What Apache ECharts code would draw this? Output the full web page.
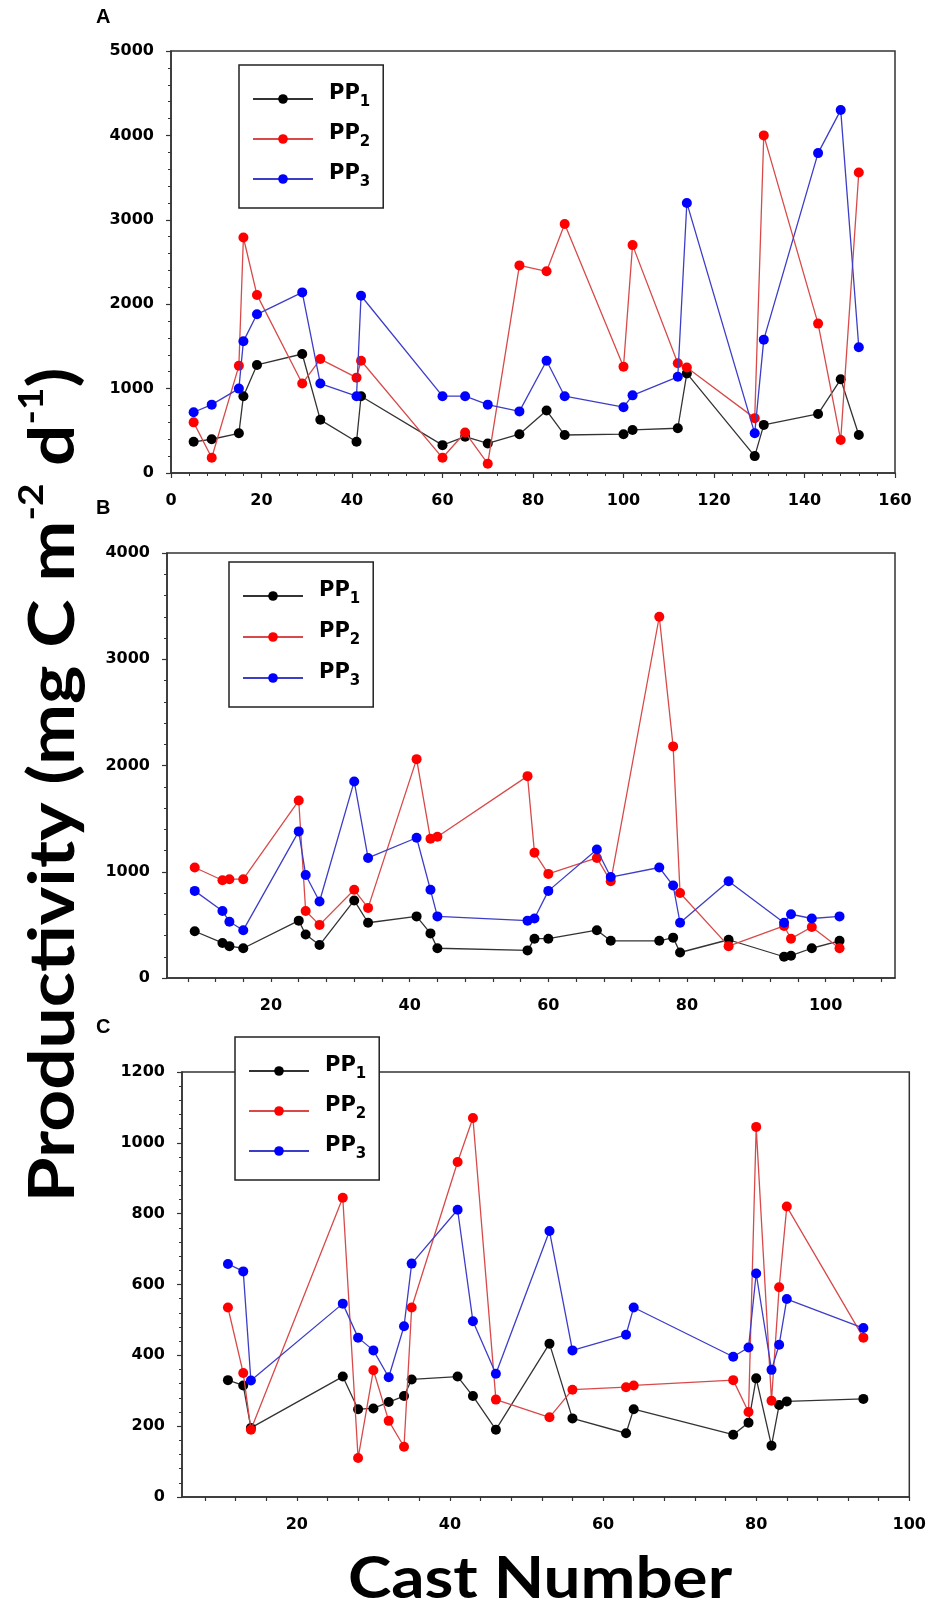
<!DOCTYPE html>
<html>
<head>
<meta charset="utf-8">
<script src="https://cdn.jsdelivr.net/npm/echarts@6/dist/echarts.min.js"></script>
<style>
html,body{margin:0;padding:0;background:#fff;}
#c{width:929px;height:1609px;}
</style>
</head>
<body>
<div id="c"></div>
<script>
// ---------- Data ----------
const castA = [5,9,15,16,19,29,33,41,42,60,65,70,77,83,87,100,102,112,114,129,131,143,148,152];
const pp1A = [370,400,470,910,1280,1410,630,370,910,330,430,350,460,740,450,460,510,530,1180,200,570,700,1110,450];
const pp2A = [600,180,1270,2790,2110,1060,1350,1130,1330,180,480,110,2460,2390,2950,1260,2700,1300,1250,650,4000,1770,390,3560];
const pp3A = [720,810,1000,1560,1880,2140,1060,910,2100,910,910,810,730,1330,910,780,920,1140,3200,470,1580,3790,4300,1490];

const castB = [9,13,14,16,24,25,27,32,34,41,43,44,57,58,60,67,69,76,78,79,86,94,95,98,102];
const pp1B = [440,330,300,280,540,410,310,730,520,580,420,280,260,370,370,450,350,350,380,240,360,200,210,280,350];
const pp2B = [1040,920,930,930,1670,630,500,830,660,2060,1310,1330,1900,1180,980,1130,910,3400,2180,800,300,490,370,480,280];
const pp3B = [820,630,530,450,1380,970,720,1850,1130,1320,830,580,540,560,820,1210,950,1040,870,520,910,520,600,560,580];

const castC = [11,13,14,26,28,30,32,34,35,41,43,46,53,56,63,64,77,79,80,82,83,84,94];
const pp1C = [330,315,195,340,248,250,268,285,332,340,285,190,433,222,180,248,176,210,335,145,260,270,277];
const pp2C = [535,350,190,845,110,358,215,142,535,946,1070,275,225,303,310,315,330,240,1045,272,592,820,450];
const pp3C = [658,637,329,546,450,414,338,482,659,811,496,348,751,414,458,535,396,422,631,359,430,559,477];

const seriesNames = ['PP1','PP2','PP3'];
const panelLetters = ['A','B','C'];
const xLabelsB = [20,40,60,80,100];
const xTicksB = [8,12,16,20,24,28,32,36,40,44,48,52,56,60,64,68,72,76,80,84,88,92,96,100,104,108];
const xLabelsC = [20,40,60,80,100];
const xTicksC = [8,12,16,20,24,28,32,36,40,44,48,52,56,60,64,68,72,76,80,84,88,92,96,100];
const yTitle = ['Productivity (mg C m','-2',' d','-1',')'];
const xTitle = 'Cast Number';

// ---------- Styling ----------
const lineColors = ['#333333','#d84a4a','#3d3dc8'];
const markColors = ['#000000','#ff0000','#0000ff'];
const labelFont = {fontFamily:'DejaVu Sans', fontWeight:'bold', fontSize:16, color:'#000', formatter: v => String(v)};
const axisLineStyle = {lineStyle:{color:'#333', width:1.5}};

const grids = [
  {left:171, top:51, width:724, height:422},
  {left:167, top:553, width:728, height:425},
  {left:182, top:1072, width:728, height:425}
].map(g => Object.assign(g, {show:true, borderColor:'#333', borderWidth:1.5, backgroundColor:'transparent', containLabel:false}));

function yAxis(i, max, interval){
  return {type:'value', gridIndex:i, min:0, max:max, interval:interval,
    axisLine:Object.assign({show:true}, axisLineStyle),
    axisTick:{show:true, length:5, lineStyle:{color:'#333', width:1.2}},
    minorTick:{show:true, splitNumber:5, length:3, lineStyle:{color:'#333', width:1}},
    splitLine:{show:false},
    axisLabel:Object.assign({margin:17}, labelFont)};
}
const xAxes = [
  {type:'value', gridIndex:0, min:0, max:160, interval:20,
    axisLine:Object.assign({show:true}, axisLineStyle),
    axisTick:{show:true, length:5, lineStyle:{color:'#333', width:1.2}},
    minorTick:{show:true, splitNumber:5, length:3, lineStyle:{color:'#333', width:1}},
    splitLine:{show:false},
    axisLabel:Object.assign({margin:20}, labelFont)},
  {type:'value', gridIndex:1, min:5, max:110,
    axisLine:Object.assign({show:true}, axisLineStyle),
    axisTick:{show:true, length:4, customValues:xTicksB, lineStyle:{color:'#333', width:1.2}},
    splitLine:{show:false},
    axisLabel:Object.assign({margin:20, customValues:xLabelsB}, labelFont)},
  {type:'value', gridIndex:2, min:5, max:100,
    axisLine:Object.assign({show:true}, axisLineStyle),
    axisTick:{show:true, length:4, customValues:xTicksC, lineStyle:{color:'#333', width:1.2}},
    splitLine:{show:false},
    axisLabel:Object.assign({margin:20, customValues:xLabelsC}, labelFont)}
];
const yAxes = [yAxis(0,5000,1000), yAxis(1,4000,1000), yAxis(2,1200,200)];

const panels = [
  {x:castA, ys:[pp1A,pp2A,pp3A]},
  {x:castB, ys:[pp1B,pp2B,pp3B]},
  {x:castC, ys:[pp1C,pp2C,pp3C]}
];
const series = [];
panels.forEach((p, pi) => {
  p.ys.forEach((vals, si) => {
    series.push({
      type:'line', name:seriesNames[si], xAxisIndex:pi, yAxisIndex:pi,
      data:p.x.map((c, k) => [c, vals[k]]),
      symbol:'circle', symbolSize:10, showSymbol:true, animation:false,
      lineStyle:{color:lineColors[si], width:1.3},
      itemStyle:{color:markColors[si]},
      z:2+si
    });
  });
});

function legend(left, top, gap){
  return {
    orient:'vertical', left:left, top:top, data:seriesNames, selectedMode:false,
    itemWidth:60, itemHeight:12, itemGap:gap,
    padding:[18,13,18,13],
    backgroundColor:'#fff', borderColor:'#222', borderWidth:1.5, borderRadius:0,
    formatter: n => '{a|PP}{s|' + n.slice(2) + '}',
    textStyle:{rich:{
      a:{fontFamily:'DejaVu Sans', fontWeight:'bold', fontSize:21, lineHeight:22, padding:[0,0,6,11], verticalAlign:'bottom', color:'#000'},
      s:{fontFamily:'DejaVu Sans', fontWeight:'bold', fontSize:15, lineHeight:15, verticalAlign:'bottom', color:'#000'}
    }}
  };
}
const legends = [legend(239,65,13), legend(229,562,14), legend(235,1037,13)];

const letterFont = 'bold 20px "Liberation Sans", Arial';
const graphics = [
  {type:'text', left:96, top:7, style:{text:panelLetters[0], font:letterFont, fill:'#000'}},
  {type:'text', left:96, top:498, style:{text:panelLetters[1], font:letterFont, fill:'#000'}},
  {type:'text', left:96, top:1017, style:{text:panelLetters[2], font:letterFont, fill:'#000'}},
  {type:'text', x:540, y:1580, scaleX:1.15,
    style:{text:xTitle, font:'bold 57px Lato', fill:'#000', textAlign:'center', textVerticalAlign:'middle'}},
  {type:'text', x:50, y:785, rotation:Math.PI/2, scaleX:1.14,
    style:{text:'{a|' + yTitle[0] + '}{s|' + yTitle[1] + '}{a|' + yTitle[2] + '}{s|' + yTitle[3] + '}{a|' + yTitle[4] + '}',
      textAlign:'center', textVerticalAlign:'middle', fill:'#000',
      rich:{
        a:{fontFamily:'Lato', fontWeight:'bold', fontSize:64, lineHeight:70, verticalAlign:'bottom', fill:'#000'},
        s:{fontFamily:'Lato', fontWeight:'bold', fontSize:34, lineHeight:40, verticalAlign:'top', fill:'#000'}
      }}}
];

const chart = echarts.init(document.getElementById('c'), null, {renderer:'canvas'});
chart.setOption({
  backgroundColor:'#fff',
  animation:false,
  grid:grids, xAxis:xAxes, yAxis:yAxes, series:series, legend:legends, graphic:graphics
});
</script>
</body>
</html>
